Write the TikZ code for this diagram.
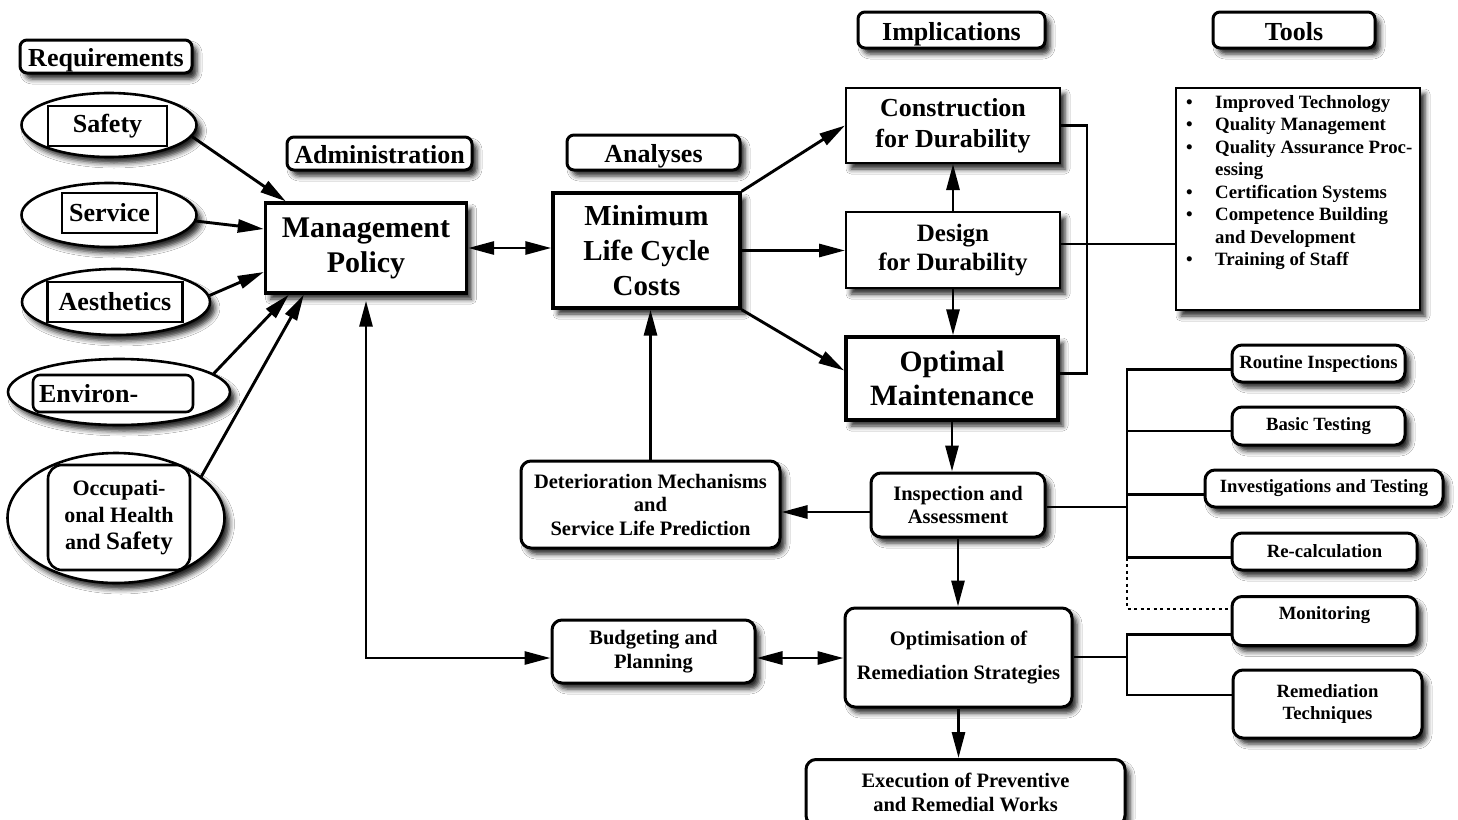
\documentclass[tikz,border=0pt]{standalone}
\usepackage{fontspec}
\setmainfont{Liberation Serif}
\usetikzlibrary{shapes.geometric,shadows.blur,arrows.meta,calc}

\newcommand\fsz[2]{\fontsize{#1}{#2}\selectfont}

\begin{document}
\begin{tikzpicture}[x=1pt,y=-1pt,
  shad/.style={blur shadow={shadow xshift=5pt,shadow yshift=-6pt,shadow blur radius=5pt,shadow opacity=85}},
  sqbox/.style={draw,line width=2pt,fill=white,shad,inner sep=0pt,align=center},
  heavy/.style={line width=3.4pt},
  rbox/.style={sqbox,line width=3pt,rounded corners=10pt,font=\bfseries\fsz{20.5}{23.5}},
  sidebox/.style={rbox,font=\bfseries\fsz{18.7}{22}},
  hdr/.style={sqbox,line width=3pt,rounded corners=7pt,font=\bfseries\fsz{26}{30},text height=21pt,text depth=1pt},
  oval/.style={ellipse,draw,line width=2.6pt,fill=white,shad,inner sep=0pt},
  inrect/.style={draw,line width=2.6pt,fill=white,inner sep=0pt,align=center,font=\bfseries\fsz{26}{30}},
  conn/.style={line width=2.9pt},
  tip/.tip={Triangle[length=26pt,width=13pt]},
  arr/.style={conn,-tip},
  darr/.style={conn,tip-tip},
  dotline/.style={conn,dash pattern=on 3pt off 3.5pt}
]
\useasboundingbox (0,0) rectangle (1458,819);
\fill[white] (0,0) rectangle (1458,819);

% column headers
\node[hdr,minimum width=172pt,minimum height=33pt] (req) at (106,56.5) {Requirements};
\node[hdr,minimum width=185pt,minimum height=33pt] (adm) at (379.5,153.5) {Administration};
\node[hdr,minimum width=173pt,minimum height=35pt] (ana) at (653.5,152.5) {Analyses};
\node[hdr,minimum width=187pt,minimum height=36pt] (imp) at (951.5,30) {Implications};
\node[hdr,minimum width=162pt,minimum height=36pt] (tls) at (1294,30) {Tools};

% requirements
\node[oval,minimum width=175pt,minimum height=64pt] (safetyE) at (109,125) {};
\node[inrect,minimum width=119pt,minimum height=40pt] (safety) at (107.5,126) {Safety};
\node[oval,minimum width=175pt,minimum height=64pt] (serviceE) at (109,215) {};
\node[inrect,minimum width=95pt,minimum height=40pt] (service) at (109.5,213) {Service};
\node[oval,minimum width=188pt,minimum height=66pt] (aesthE) at (116,302) {};
\node[inrect,minimum width=135pt,minimum height=40pt] (aesth) at (115,302) {Aesthetics};
\node[oval,minimum width=222pt,minimum height=66pt] (envE) at (119,392) {};
\node[inrect,rounded corners=7pt,text width=148pt,align=left,inner xsep=6pt,minimum height=37pt] (env) at (113,393.5) {Environ-};
\node[oval,minimum width=217pt,minimum height=130pt] (occE) at (116,518) {};
\node[inrect,rounded corners=14pt,minimum width=142pt,minimum height=105pt,font=\bfseries\fsz{22}{27}] (occ) at (119,517.5) {Occupati-\\onal Health\\and {\fsz{25}{30}Safety}};

% main chain
\node[sqbox,heavy,minimum width=201pt,minimum height=90pt,font=\bfseries\fsz{30}{35}] (mgmt) at (366,248) {Management\\Policy};
\node[sqbox,heavy,minimum width=187pt,minimum height=115pt,font=\bfseries\fsz{29}{35}] (mlcc) at (646.5,250.5) {Minimum\\Life Cycle\\Costs};
\node[sqbox,minimum width=214pt,minimum height=75pt,font=\bfseries\fsz{26}{31}] (constr) at (953,125.5) {Construction\\for Durability};
\node[sqbox,minimum width=214pt,minimum height=76pt,font=\bfseries\fsz{25}{29}] (design) at (953,250) {Design\\for Durability};
\node[sqbox,heavy,minimum width=212pt,minimum height=83pt,font=\bfseries\fsz{29.5}{34}] (optm) at (952,378.5) {Optimal\\Maintenance};

% tools list
\node[sqbox,minimum width=244pt,minimum height=222pt] (toolsbox) at (1298,199) {};
\node[anchor=north west,inner sep=0pt,align=left,font=\bfseries\fsz{18.8}{22.5}] (toolslist) at (1186,95) {%
\makebox[29pt][l]{\textbullet}Improved Technology\\
\makebox[29pt][l]{\textbullet}Quality Management\\
\makebox[29pt][l]{\textbullet}Quality Assurance Proc-\\
\hspace*{29pt}essing\\
\makebox[29pt][l]{\textbullet}Certification Systems\\
\makebox[29pt][l]{\textbullet}Competence Building\\
\hspace*{29pt}and Development\\
\makebox[29pt][l]{\textbullet}Training of Staff};

% lower chain
\node[rbox,minimum width=174pt,minimum height=64pt] (insp) at (958,505) {Inspection and\\Assessment};
\node[rbox,minimum width=259pt,minimum height=87pt] (deter) at (650.5,504.5) {Deterioration Mechanisms\\and\\Service Life Prediction};
\node[rbox,minimum width=203pt,minimum height=63pt] (budget) at (653.5,651.5) {Budgeting and\\Planning};
\node[rbox,minimum width=227pt,minimum height=99pt] (optim) at (958.5,657.5) {Optimisation of\\[11pt]Remediation Strategies};
\node[rbox,anchor=north,minimum width=319pt,minimum height=66pt] (exec) at (965.5,758) {Execution of Preventive\\and Remedial Works};

% inspection and remediation tools
\node[sidebox,minimum width=173pt,minimum height=37pt] (routine) at (1318.5,363.5) {Routine Inspections};
\node[sidebox,minimum width=173pt,minimum height=38pt] (basic) at (1318.5,426) {Basic Testing};
\node[sidebox,minimum width=238pt,minimum height=37pt] (invest) at (1324,488.5) {Investigations and Testing};
\node[sidebox,minimum width=185pt,minimum height=37pt] (recalc) at (1324.5,551.5) {Re-calculation};
\node[sidebox,anchor=north,minimum width=185pt,inner ysep=6pt,text height=17pt,text depth=20pt] (monitor) at (1324.5,595) {Monitoring};
\node[sidebox,minimum width=189pt,minimum height=68pt] (remed) at (1327.5,704) {Remediation\\Techniques};

% requirements feeding the policy
\draw[arr] (safetyE.-8) -- ([xshift=22pt]mgmt.north west);
\draw[arr] (serviceE.-4) -- ([yshift=19pt]mgmt.west);
\draw[arr] (aesthE.4) -- ([yshift=-24pt]mgmt.west);
\draw[arr] (envE.11) -- ([xshift=25pt]mgmt.south west);
\draw[arr] (occE.26) -- ([xshift=40pt]mgmt.south west);

% main flow
\draw[darr] (mgmt.east) -- (mgmt.east -| mlcc.west);
\draw[arr] (mlcc.north east) -- (constr.west);
\draw[arr] (mlcc.east) -- (mlcc.east -| design.west);
\draw[arr] (mlcc.south east) -- ([yshift=8pt]optm.west);
\draw[arr] (design.north) -- (constr.south);
\draw[arr] (design.south) -- (design.south |- optm.north);
\draw[arr] (optm.south) -- (optm.south |- insp.north);
\draw[arr] ([yshift=-7pt]insp.west) -- ([yshift=-7pt]insp.west -| deter.east);
\draw[arr] (deter.north) -- (deter.north |- mlcc.south);
\draw[arr] (insp.south) -- (insp.south |- optim.north);
\draw[darr,shorten <=6pt] (mgmt.south) |- ([yshift=-6.5pt]budget.west);
\draw[darr] ([yshift=-6.5pt]budget.east) -- ([yshift=-6.5pt]budget.east -| optim.west);
\draw[arr] (optim.south) -- (optim.south |- exec.north);

% implications bracket and tools link
\coordinate (j3) at (1087,250);
\draw[conn] (constr.east) -| (j3) |- ([yshift=5pt]optm.east);
\draw[conn] ([yshift=6pt]design.east) -- ([yshift=6pt]design.east -| toolsbox.west);

% inspection tree
\coordinate (j1) at (1127,507);
\draw[conn] (insp.east |- j1) -- (j1);
\draw[conn] ([yshift=-6pt]routine.west) -| (j1);
\draw[conn] ([yshift=-6pt]recalc.west) -| (j1);
\draw[conn] ([yshift=-5pt]basic.west) -- ([yshift=-5pt]basic.west -| j1);
\draw[conn] ([yshift=-6pt]invest.west) -- ([yshift=-6pt]invest.west -| j1);
\draw[dotline] ([yshift=-6pt]recalc.west -| j1) |- ([yshift=12pt]monitor.west);

% remediation tree
\coordinate (j2) at (1127,657);
\draw[conn] (optim.east |- j2) -- (j2);
\draw[conn] ([yshift=-13.5pt]monitor.west) -| (j2);
\draw[conn] ([yshift=9pt]remed.west) -| (j2);
\end{tikzpicture}
\end{document}
